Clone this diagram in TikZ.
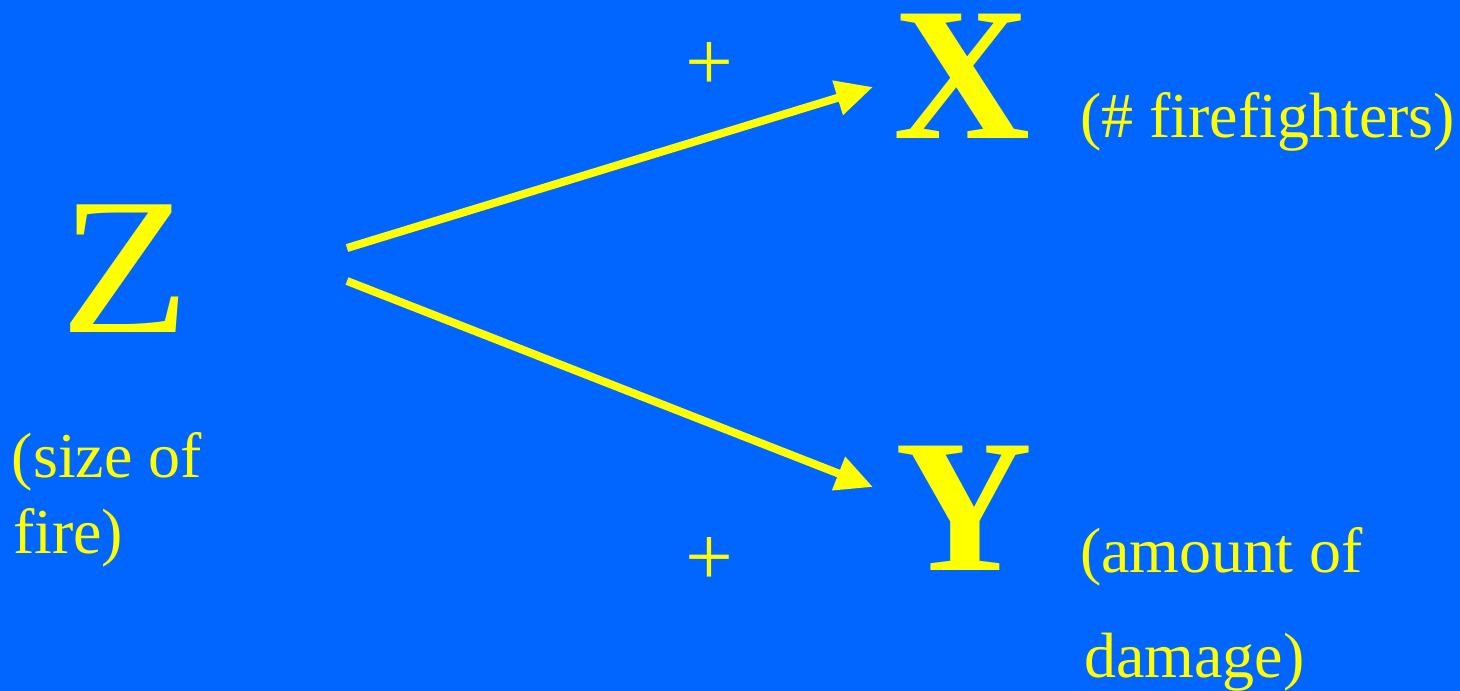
\documentclass[tikz,border=0pt]{standalone}
\usepackage{fontspec}
\setmainfont{Liberation Serif}
\usetikzlibrary{arrows.meta}
\definecolor{bgblue}{RGB}{0,102,255}
\definecolor{fgyellow}{RGB}{255,255,0}
\begin{document}
\begin{tikzpicture}[x=1pt,y=-1pt,
  every node/.style={inner sep=0pt, outer sep=0pt, text=fgyellow},
  bigvar/.style={font=\fontsize{195}{195}\selectfont, anchor=base west, xscale=1.09},
  bigbold/.style={font=\fontsize{190}{190}\selectfont\bfseries, anchor=base west},
  note/.style={font=\fontsize{64}{64}\selectfont, anchor=base west},
  sign/.style={font=\fontsize{85}{85}\selectfont, anchor=base},
  causal/.style={draw=fgyellow, line width=8pt, line cap=butt,
    -{Triangle[length=37pt,width=34pt]}}]
\fill[bgblue] (0,0) rectangle (1460,691);
\useasboundingbox (0,0) rectangle (1460,691);
% variables
\node[bigvar] (Z) at (60,332) {Z};
\node[bigbold] (X) at (893,138) {X};
\node[bigbold] (Y) at (895,570) {Y};
% descriptions
\node[note] (xd) at (1080,137) {(\# firefighters)};
\node[note] (zd1) at (12,477) {(size of};
\node[note] (zd2) at (13,553) {fire)};
\node[note] (yd1) at (1080,572) {(amount of};
\node[note] (yd2) at (1084,677) {damage)};
% signs
\node[sign] (p1) at (709,90) {+};
\node[sign] (p2) at (709,585) {+};
% connectors
\coordinate (zs1) at (347,248);
\coordinate (zs2) at (347,281);
\coordinate (xt) at (873,87);
\coordinate (yt) at (873,487);
\draw[causal] (zs1) -- (xt);
\draw[causal] (zs2) -- (yt);
\end{tikzpicture}
\end{document}
